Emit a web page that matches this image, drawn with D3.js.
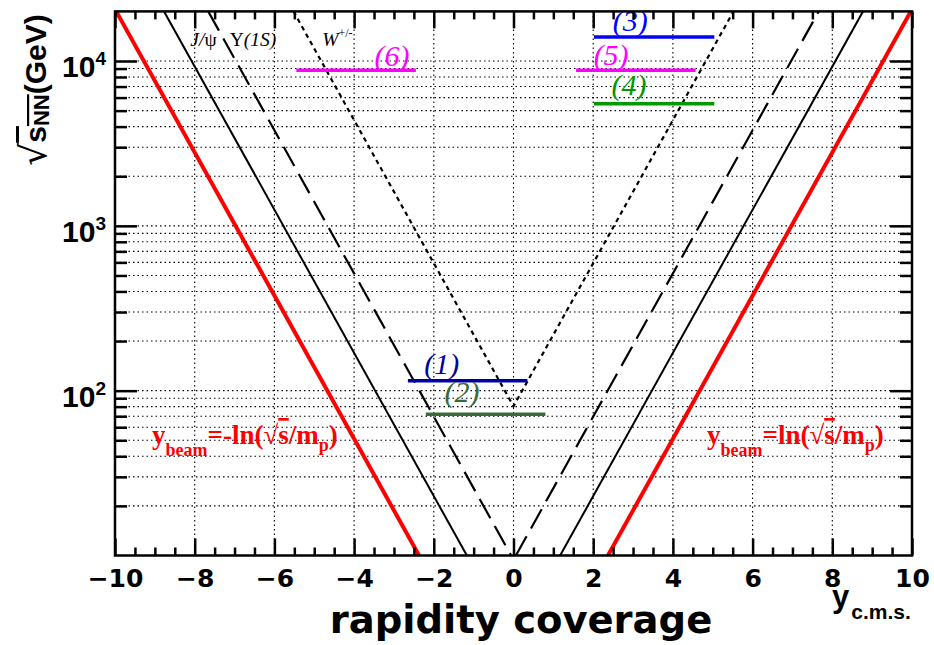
<!DOCTYPE html>
<html>
<head>
<meta charset="utf-8">
<script src="https://cdn.jsdelivr.net/npm/d3@7"></script>
<style>
  body { margin: 0; background: #fff; }
  text { font-kerning: normal; }
</style>
</head>
<body>
<svg id="chart" width="934" height="645"></svg>
<script>
// ---- axis ticks ----
const xMajorTicks = [-10, -8, -6, -4, -2, 0, 2, 4, 6, 8, 10];
const yMajorTicks = [100, 1000, 10000];
const yMajorExponents = ["2", "3", "4"];

// ---- kinematic limits: [rapidity, sqrt(s_NN) in GeV] end points ----
const beamBackward = [[-9.97, 20000], [-2.37, 10]];
const beamForward  = [[2.37, 10], [9.97, 20000]];
const jpsiBackward = [[-8.77, 20000], [-1.17, 10]];
const jpsiForward  = [[1.17, 10], [8.77, 20000]];
const upsBackward  = [[-7.66, 20000], [-0.06, 10]];
const upsForward   = [[0.06, 10], [7.66, 20000]];
const wBoson       = [[-5.52, 20000], [0, 80.4], [5.52, 20000]];

// ---- experiment coverages ----
const covNames = ["(1)", "(2)", "(3)", "(4)", "(5)", "(6)"];
const covSqrtS = [115, 72, 14000, 5500, 8800, 8800];
const covYmin  = [-2.65, -2.2, 2.02, 2.02, 1.57, -5.45];
const covYmax  = [0.35, 0.8, 5.04, 5.04, 4.57, -2.45];

// ---- layout ----
const L = 115, R = 912, T = 11.4, B = 555.5;
const svg = d3.select("#chart");

const x = d3.scaleLinear().domain([-10, 10]).range([L, R]);
const y = d3.scaleLog().domain([10, 20000]).range([B, T]);

const minorX = d3.range(-10, 10.001, 0.5).filter(v => Math.abs(v % 2) > 1e-9);
const minorY = [];
[10, 100, 1000].forEach(dec => { for (let k = 2; k <= 9; k++) minorY.push(k * dec); });

// clip region for everything drawn inside the frame
svg.append("clipPath").attr("id", "plotclip")
  .append("rect").attr("x", L).attr("y", T).attr("width", R - L).attr("height", B - T);

// ---- dotted grid ----
const grid = svg.append("g").attr("stroke", "#000").attr("stroke-width", 1.1)
  .attr("stroke-dasharray", "1.5,3");
grid.selectAll("line.gx").data(xMajorTicks.filter(v => v > -10 && v < 10)).join("line")
  .attr("x1", d => x(d)).attr("x2", d => x(d)).attr("y1", T).attr("y2", B);
grid.selectAll("line.gy").data(minorY.concat(yMajorTicks)).join("line")
  .attr("x1", L).attr("x2", R).attr("y1", d => y(d)).attr("y2", d => y(d));

// ---- curves ----
const lineGen = d3.line().x(d => x(d[0])).y(d => y(d[1]));
const curves = svg.append("g").attr("clip-path", "url(#plotclip)").attr("fill", "none");

[beamBackward, beamForward].forEach(c =>
  curves.append("path").attr("d", lineGen(c)).attr("stroke", "#ff0000").attr("stroke-width", 4));
[jpsiBackward, jpsiForward].forEach(c =>
  curves.append("path").attr("d", lineGen(c)).attr("stroke", "#000").attr("stroke-width", 2));
[upsBackward, upsForward].forEach(c =>
  curves.append("path").attr("d", lineGen(c)).attr("stroke", "#000").attr("stroke-width", 2.2)
    .attr("stroke-dasharray", "22,9"));
curves.append("path").attr("d", lineGen(wBoson)).attr("stroke", "#000").attr("stroke-width", 2.2)
  .attr("stroke-dasharray", "4.5,4");

// ---- coverage bars ----
const covColors = ["#0000a0", "#3a6a3a", "#0000ff", "#009a00", "#ff00ff", "#ff00ff"];
const covLabelY = [-1.8, -1.29, 2.93, 2.9, 2.45, -3.05];   // label centre (rapidity)
const covLabelLift = [7, 12, 6, 9, 5, 4];                  // label baseline above bar, px

const bars = svg.append("g");
covNames.forEach((n, i) => {
  bars.append("line")
    .attr("x1", x(covYmin[i])).attr("x2", x(covYmax[i]))
    .attr("y1", y(covSqrtS[i])).attr("y2", y(covSqrtS[i]))
    .attr("stroke", covColors[i]).attr("stroke-width", 3.5);
  bars.append("text")
    .attr("x", x(covLabelY[i])).attr("y", y(covSqrtS[i]) - covLabelLift[i])
    .attr("text-anchor", "middle")
    .attr("font-family", "'Liberation Serif', 'Times New Roman', serif")
    .attr("font-style", "italic").attr("font-size", 30)
    .attr("fill", covColors[i]).text(n);
});

// ---- frame and ticks ----
const tickLen = { xMaj: 17, xMin: 8, yMaj: 22, yMin: 12 };
const fmtX = d => (d < 0 ? "\u2212" + Math.abs(d) : String(d));

const axB = svg.append("g").attr("transform", `translate(0,${B})`)
  .call(d3.axisBottom(x).tickValues(xMajorTicks).tickSize(-tickLen.xMaj).tickPadding(14).tickFormat(fmtX));
svg.append("g").attr("transform", `translate(0,${B})`)
  .call(d3.axisBottom(x).tickValues(minorX).tickSize(-tickLen.xMin).tickFormat(""));
svg.append("g").attr("transform", `translate(0,${T})`)
  .call(d3.axisTop(x).tickValues(xMajorTicks).tickSize(-tickLen.xMaj).tickFormat(""));
svg.append("g").attr("transform", `translate(0,${T})`)
  .call(d3.axisTop(x).tickValues(minorX).tickSize(-tickLen.xMin).tickFormat(""));

const axL = svg.append("g").attr("transform", `translate(${L},0)`)
  .call(d3.axisLeft(y).tickValues(yMajorTicks).tickSize(-tickLen.yMaj).tickPadding(9).tickFormat(() => "10"));
svg.append("g").attr("transform", `translate(${L},0)`)
  .call(d3.axisLeft(y).tickValues(minorY).tickSize(-tickLen.yMin).tickFormat(""));
svg.append("g").attr("transform", `translate(${R},0)`)
  .call(d3.axisRight(y).tickValues(yMajorTicks).tickSize(-tickLen.yMaj).tickFormat(""));
svg.append("g").attr("transform", `translate(${R},0)`)
  .call(d3.axisRight(y).tickValues(minorY).tickSize(-tickLen.yMin).tickFormat(""));

svg.selectAll(".domain").remove();
svg.selectAll(".tick line").attr("stroke", "#000").attr("stroke-width", 2.5);

axB.selectAll("text")
  .attr("font-family", "'DejaVu Sans', sans-serif").attr("font-weight", "bold")
  .attr("font-size", 25).attr("fill", "#000");

axL.selectAll("text")
  .attr("font-family", "'Liberation Sans', Arial, sans-serif").attr("font-weight", "bold")
  .attr("font-size", 30).attr("fill", "#000").attr("dy", "0.53em")
  .each(function (d) {
    d3.select(this).append("tspan").attr("font-size", 19).attr("dy", -12)
      .text(yMajorExponents[yMajorTicks.indexOf(d)]);
  });

svg.append("rect").attr("x", L).attr("y", T).attr("width", R - L).attr("height", B - T)
  .attr("fill", "none").attr("stroke", "#000").attr("stroke-width", 2.5);

// ---- axis titles ----
svg.append("text")
  .attr("x", 521).attr("y", 633).attr("text-anchor", "middle")
  .attr("font-family", "'DejaVu Sans', sans-serif").attr("font-weight", "bold")
  .attr("font-size", 38.5).attr("fill", "#000").text("rapidity coverage");

const xt = svg.append("text").attr("x", 832).attr("y", 607)
  .attr("font-family", "'Liberation Sans', Arial, sans-serif").attr("font-weight", "bold")
  .attr("fill", "#000");
xt.append("tspan").attr("font-size", 31).text("y");
xt.append("tspan").attr("font-size", 21).attr("dy", 12).attr("dx", 2).text("c.m.s.");

const yt = svg.append("text")
  .attr("transform", "translate(46,90) rotate(-90)").attr("text-anchor", "middle")
  .attr("font-family", "'Liberation Sans', Arial, sans-serif").attr("font-weight", "bold")
  .attr("fill", "#000");
yt.append("tspan").attr("font-size", 36).attr("font-family", "'DejaVu Sans', sans-serif")
  .attr("font-weight", "normal").text("\u221A");
yt.append("tspan").attr("font-size", 30).style("text-decoration", "overline").text("s");
yt.append("tspan").attr("font-size", 22).attr("dy", 3).style("text-decoration", "overline").text("NN");
yt.append("tspan").attr("font-size", 30).attr("dy", -3).text("(GeV)");

// ---- curve annotations ----
const serif = "'Liberation Serif', 'Times New Roman', serif";
const a1 = svg.append("text").attr("x", x(-8.11)).attr("y", 46)
  .attr("font-family", serif).attr("font-size", 19.5).attr("fill", "#000");
a1.append("tspan").attr("font-style", "italic").text("J/");
a1.append("tspan").text("\u03C8");
const a2 = svg.append("text").attr("x", x(-7.12)).attr("y", 46)
  .attr("font-family", serif).attr("font-size", 19.5).attr("fill", "#000");
a2.append("tspan").text("\u03A5");
a2.append("tspan").attr("font-style", "italic").text("(1S)");
const a3 = svg.append("text").attr("x", x(-4.8)).attr("y", 46)
  .attr("font-family", serif).attr("font-size", 19.5).attr("fill", "#000");
a3.append("tspan").attr("font-style", "italic").text("W");
a3.append("tspan").attr("font-size", 12).attr("dy", -9).text("+/-");

// y_beam formulas
function beamLabel(xStart, sign) {
  const t = svg.append("text").attr("x", xStart).attr("y", 444)
    .attr("font-family", serif).attr("font-weight", "bold").attr("fill", "#ff0000");
  t.append("tspan").attr("font-size", 27).text("y");
  t.append("tspan").attr("font-size", 18).attr("dy", 12).text("beam");
  t.append("tspan").attr("font-size", 27).attr("dy", -12).text(sign + "ln(");
  t.append("tspan").attr("font-size", 27).attr("font-weight", "normal").text("\u221A");
  t.append("tspan").attr("font-size", 27).style("text-decoration", "overline").text("s");
  t.append("tspan").attr("font-size", 27).text("/m");
  t.append("tspan").attr("font-size", 18).attr("dy", 7).text("p");
  t.append("tspan").attr("font-size", 27).attr("dy", -7).text(")");
}
beamLabel(152, "=-");
beamLabel(707, "=");
</script>
</body>
</html>
